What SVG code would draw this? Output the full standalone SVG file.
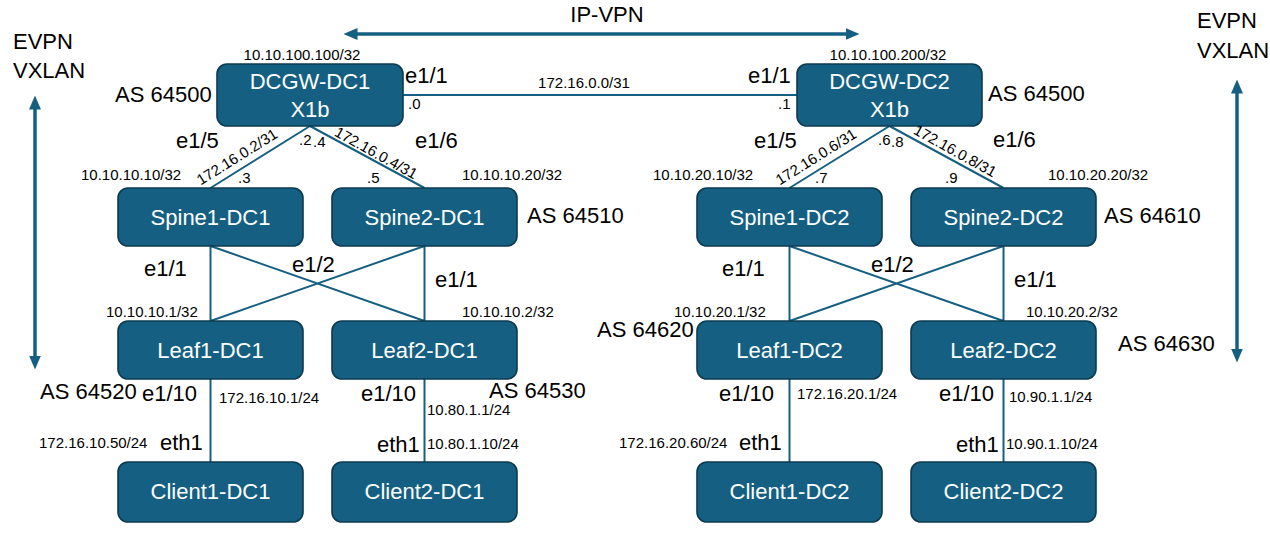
<svg xmlns="http://www.w3.org/2000/svg" width="1270" height="539" viewBox="0 0 1270 539">
  <style>
    .node rect { fill: #156082; stroke: #0c3a50; stroke-width: 1.6; }
    .node text { fill: #ffffff; font-family: "Liberation Sans", Arial, sans-serif; font-size: 22px; text-anchor: middle; }
    .link { fill: none; stroke: #156082; stroke-width: 2; }
    .arrow { fill: none; stroke: #156082; stroke-width: 3.5; }
    .lbl { fill: #000000; font-family: "Liberation Sans", Arial, sans-serif; font-size: 22px; }
    .sm { fill: #000000; font-family: "Liberation Sans", Arial, sans-serif; font-size: 15px; }
  </style>
  <defs>
    <marker id="head" viewBox="0 0 14 12" markerUnits="userSpaceOnUse" markerWidth="14" markerHeight="12" refX="0.5" refY="6" orient="auto-start-reverse">
      <path d="M0,0 L14,6 L0,12 z" fill="#156082"/>
    </marker>
  </defs>

  <rect width="1270" height="539" fill="#ffffff"/>

  <!-- overlay arrows -->
  <g id="overlay-arrows">
    <line class="arrow" x1="357" y1="34" x2="846" y2="34" marker-start="url(#head)" marker-end="url(#head)"/>
    <line class="arrow" x1="35" y1="109" x2="35" y2="356" marker-start="url(#head)" marker-end="url(#head)"/>
    <line class="arrow" x1="1237" y1="93" x2="1237" y2="349" marker-start="url(#head)" marker-end="url(#head)"/>
  </g>

  <!-- connectors -->
  <g id="connectors">
    <path class="link" d="M403,95 H797"/>
    <path class="link" d="M310,126 L210.5,188 M310,126 L424.5,188"/>
    <path class="link" d="M889.5,126 L789.5,188 M889.5,126 L1003.5,188"/>
    <path class="link" d="M210.5,246 V321 M210.5,246 L424.5,321 M424.5,246 L210.5,321 M424.5,246 V321"/>
    <path class="link" d="M789.5,246 V321 M789.5,246 L1003.5,321 M1003.5,246 L789.5,321 M1003.5,246 V321"/>
    <path class="link" d="M210.5,379 V462 M424.5,379 V462 M789.5,379 V462 M1003.5,379 V462"/>
  </g>

  <!-- nodes -->
  <g id="dcgw-dc1" class="node"><rect x="217" y="64" width="186" height="62" rx="10"/><text x="310" y="89">DCGW-DC1</text><text x="310" y="117">X1b</text></g>
  <g id="dcgw-dc2" class="node"><rect x="797" y="64" width="185" height="62" rx="10"/><text x="889.5" y="89">DCGW-DC2</text><text x="889.5" y="117">X1b</text></g>

  <g id="spine1-dc1" class="node"><rect x="118" y="188" width="185" height="58" rx="10"/><text x="210.5" y="224.5">Spine1-DC1</text></g>
  <g id="spine2-dc1" class="node"><rect x="332" y="188" width="185" height="58" rx="10"/><text x="424.5" y="224.5">Spine2-DC1</text></g>
  <g id="leaf1-dc1" class="node"><rect x="118" y="321" width="185" height="58" rx="10"/><text x="210.5" y="357.5">Leaf1-DC1</text></g>
  <g id="leaf2-dc1" class="node"><rect x="332" y="321" width="185" height="58" rx="10"/><text x="424.5" y="357.5">Leaf2-DC1</text></g>
  <g id="client1-dc1" class="node"><rect x="118" y="462" width="185" height="60" rx="10"/><text x="210.5" y="499">Client1-DC1</text></g>
  <g id="client2-dc1" class="node"><rect x="332" y="462" width="185" height="60" rx="10"/><text x="424.5" y="499">Client2-DC1</text></g>

  <g id="spine1-dc2" class="node"><rect x="697" y="188" width="185" height="58" rx="10"/><text x="789.5" y="224.5">Spine1-DC2</text></g>
  <g id="spine2-dc2" class="node"><rect x="911" y="188" width="185" height="58" rx="10"/><text x="1003.5" y="224.5">Spine2-DC2</text></g>
  <g id="leaf1-dc2" class="node"><rect x="697" y="321" width="185" height="58" rx="10"/><text x="789.5" y="357.5">Leaf1-DC2</text></g>
  <g id="leaf2-dc2" class="node"><rect x="911" y="321" width="185" height="58" rx="10"/><text x="1003.5" y="357.5">Leaf2-DC2</text></g>
  <g id="client1-dc2" class="node"><rect x="697" y="462" width="185" height="60" rx="10"/><text x="789.5" y="499">Client1-DC2</text></g>
  <g id="client2-dc2" class="node"><rect x="911" y="462" width="185" height="60" rx="10"/><text x="1003.5" y="499">Client2-DC2</text></g>

  <!-- labels -->
  <g id="labels">
    <text class="lbl" x="607" y="22" text-anchor="middle">IP-VPN</text>
    <text class="lbl" x="13" y="49">EVPN</text>
    <text class="lbl" x="13" y="78">VXLAN</text>
    <text class="lbl" x="1197" y="28">EVPN</text>
    <text class="lbl" x="1197" y="58">VXLAN</text>

    <!-- gateway area -->
    <text class="sm" x="302" y="60" text-anchor="middle">10.10.100.100/32</text>
    <text class="sm" x="888" y="60" text-anchor="middle">10.10.100.200/32</text>
    <text class="lbl" x="115" y="102">AS 64500</text>
    <text class="lbl" x="988" y="101">AS 64500</text>
    <text class="lbl" x="405" y="83">e1/1</text>
    <text class="lbl" x="748" y="83">e1/1</text>
    <text class="sm" x="408" y="109">.0</text>
    <text class="sm" x="778" y="109">.1</text>
    <text class="sm" x="584" y="88" text-anchor="middle">172.16.0.0/31</text>

    <!-- DC1 gateway to spines -->
    <text class="lbl" x="176" y="148">e1/5</text>
    <text class="lbl" x="415" y="148">e1/6</text>
    <text class="sm" transform="translate(237,157) rotate(-32)" x="0" y="5" text-anchor="middle">172.16.0.2/31</text>
    <text class="sm" transform="translate(376,153) rotate(29)" x="0" y="5" text-anchor="middle">172.16.0.4/31</text>
    <text class="sm" x="299" y="145">.2</text>
    <text class="sm" x="313" y="147">.4</text>
    <text class="sm" x="238" y="183">.3</text>
    <text class="sm" x="367" y="183">.5</text>
    <text class="sm" x="81" y="180">10.10.10.10/32</text>
    <text class="sm" x="462" y="180">10.10.10.20/32</text>
    <text class="lbl" x="527" y="223">AS 64510</text>

    <!-- DC2 gateway to spines -->
    <text class="lbl" x="754" y="148">e1/5</text>
    <text class="lbl" x="993" y="147">e1/6</text>
    <text class="sm" transform="translate(816,157) rotate(-32)" x="0" y="5" text-anchor="middle">172.16.0.6/31</text>
    <text class="sm" transform="translate(955,151) rotate(29)" x="0" y="5" text-anchor="middle">172.16.0.8/31</text>
    <text class="sm" x="878" y="145">.6</text>
    <text class="sm" x="891" y="147">.8</text>
    <text class="sm" x="815" y="183">.7</text>
    <text class="sm" x="945" y="183">.9</text>
    <text class="sm" x="653" y="180">10.10.20.10/32</text>
    <text class="sm" x="1048" y="180">10.10.20.20/32</text>
    <text class="lbl" x="1104" y="223">AS 64610</text>

    <!-- DC1 fabric -->
    <text class="lbl" x="144" y="276">e1/1</text>
    <text class="lbl" x="292" y="272">e1/2</text>
    <text class="lbl" x="435" y="287">e1/1</text>
    <text class="sm" x="106" y="317">10.10.10.1/32</text>
    <text class="sm" x="462" y="317">10.10.10.2/32</text>
    <text class="lbl" x="40" y="399">AS 64520</text>
    <text class="lbl" x="142" y="401">e1/10</text>
    <text class="sm" x="219" y="403">172.16.10.1/24</text>
    <text class="lbl" x="361" y="401">e1/10</text>
    <text class="lbl" x="489" y="398">AS 64530</text>
    <text class="sm" x="427" y="415">10.80.1.1/24</text>
    <text class="sm" x="39" y="448">172.16.10.50/24</text>
    <text class="lbl" x="160" y="450">eth1</text>
    <text class="lbl" x="377" y="452">eth1</text>
    <text class="sm" x="427" y="449">10.80.1.10/24</text>

    <!-- DC2 fabric -->
    <text class="lbl" x="722" y="276">e1/1</text>
    <text class="lbl" x="871" y="272">e1/2</text>
    <text class="lbl" x="1014" y="287">e1/1</text>
    <text class="sm" x="674" y="317">10.10.20.1/32</text>
    <text class="sm" x="1026" y="317">10.10.20.2/32</text>
    <text class="lbl" x="597" y="337">AS 64620</text>
    <text class="lbl" x="1118" y="351">AS 64630</text>
    <text class="lbl" x="719" y="401">e1/10</text>
    <text class="sm" x="797" y="399">172.16.20.1/24</text>
    <text class="lbl" x="939" y="401">e1/10</text>
    <text class="sm" x="1009" y="402">10.90.1.1/24</text>
    <text class="sm" x="619" y="448">172.16.20.60/24</text>
    <text class="lbl" x="739" y="450">eth1</text>
    <text class="lbl" x="956" y="452">eth1</text>
    <text class="sm" x="1006" y="449">10.90.1.10/24</text>
  </g>
</svg>
